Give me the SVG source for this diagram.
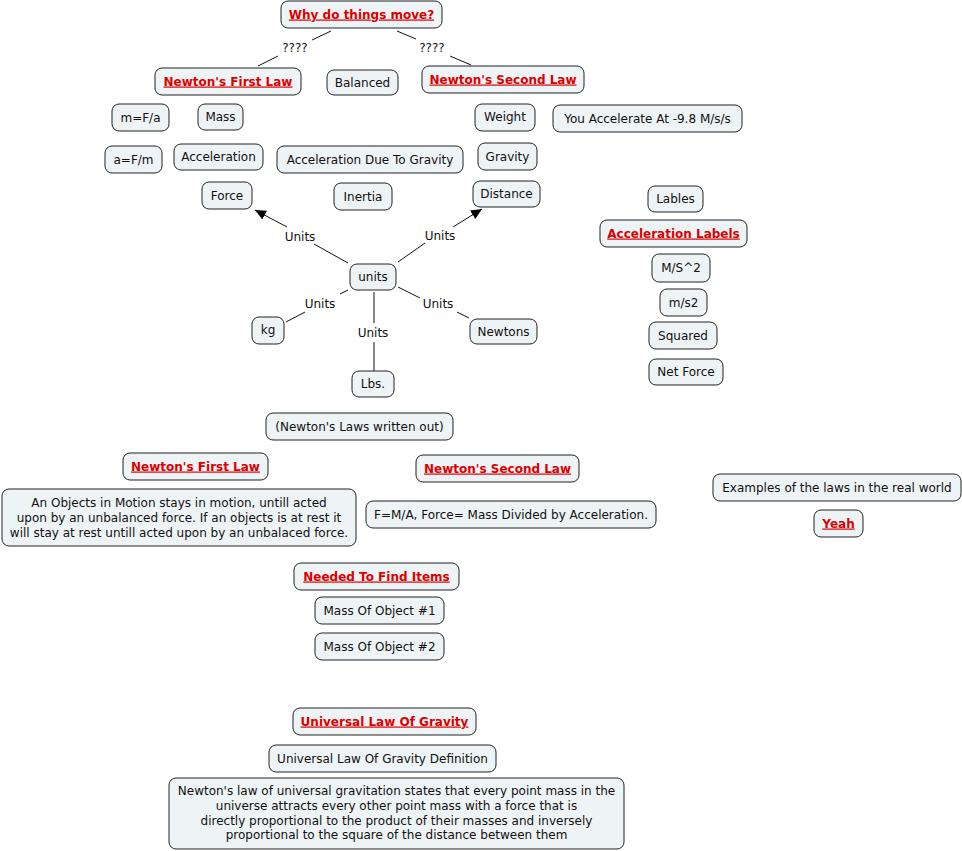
<svg xmlns="http://www.w3.org/2000/svg" width="962" height="851" viewBox="0 0 962 851">
<defs>
<style>
.n rect{fill:#eef3f5;stroke:#222;stroke-width:1;rx:7px;ry:7px}
text{font-family:"DejaVu Sans","Verdana",sans-serif;font-size:12px;fill:#111;text-anchor:middle}
.t text{font-weight:bold;fill:#dd0000;text-decoration:underline}
.c line{stroke:#111;stroke-width:1}
.lb{fill:#111}
</style>
<marker id="ah" markerWidth="12" markerHeight="12" refX="11" refY="5" orient="auto" markerUnits="userSpaceOnUse" viewBox="0 0 12 10">
<path d="M0,0 L11,5 L0,10 z" fill="#000"/>
</marker>
</defs>
<rect width="962" height="851" fill="#fff"/>
<g id="connectors" class="c">
<line x1="331" y1="31" x2="312" y2="40"/>
<line x1="278" y1="56" x2="258" y2="66"/>
<text class="lb" x="295" y="52">????</text>
<line x1="397" y1="31" x2="416" y2="39"/>
<line x1="450" y1="56" x2="471" y2="65"/>
<text class="lb" x="432" y="52">????</text>
<line x1="348" y1="263" x2="314" y2="244"/>
<line x1="287" y1="227" x2="255" y2="210" marker-end="url(#ah)"/>
<text class="lb" x="300" y="241">Units</text>
<line x1="398" y1="262" x2="425" y2="243"/>
<line x1="453" y1="227" x2="482" y2="209" marker-end="url(#ah)"/>
<text class="lb" x="440" y="240">Units</text>
<line x1="348" y1="290" x2="340" y2="294"/>
<line x1="305" y1="312" x2="286" y2="322"/>
<text class="lb" x="320" y="308">Units</text>
<line x1="374" y1="292" x2="374" y2="323"/>
<line x1="374" y1="342" x2="374" y2="371"/>
<text class="lb" x="373" y="337">Units</text>
<line x1="398" y1="287" x2="420" y2="298"/>
<line x1="457" y1="312" x2="469" y2="318"/>
<text class="lb" x="438" y="308">Units</text>
</g>
<g id="why" class="n t"><rect x="281" y="1" width="161" height="27"/><text x="361.5" y="18.5">Why do things move?</text></g>
<g id="nfl1" class="n t"><rect x="155" y="68" width="146" height="27"/><text x="228" y="85.5">Newton's First Law</text></g>
<g id="balanced" class="n"><rect x="327" y="70" width="71" height="25"/><text x="362.5" y="86.5">Balanced</text></g>
<g id="nsl1" class="n t"><rect x="422" y="66" width="162" height="27"/><text x="503" y="83.5">Newton's Second Law</text></g>
<g id="mfa" class="n"><rect x="112" y="104" width="57" height="27"/><text x="140.5" y="121.5">m=F/a</text></g>
<g id="mass" class="n"><rect x="198" y="104" width="45" height="26"/><text x="220.5" y="121">Mass</text></g>
<g id="weight" class="n"><rect x="475" y="104" width="60" height="27"/><text x="505" y="121">Weight</text></g>
<g id="youacc" class="n"><rect x="553" y="105" width="189" height="27"/><text x="647.5" y="122.5">You Accelerate At -9.8 M/s/s</text></g>
<g id="afm" class="n"><rect x="105" y="146" width="57" height="27"/><text x="133.5" y="163.5">a=F/m</text></g>
<g id="accel" class="n"><rect x="174" y="144" width="89" height="26"/><text x="218.5" y="161">Acceleration</text></g>
<g id="adtg" class="n"><rect x="277" y="146" width="186" height="27"/><text x="370" y="163.5">Acceleration Due To Gravity</text></g>
<g id="gravity" class="n"><rect x="478" y="143" width="59" height="27"/><text x="507.5" y="160.5">Gravity</text></g>
<g id="force" class="n"><rect x="202" y="182" width="50" height="27"/><text x="227" y="199.5">Force</text></g>
<g id="inertia" class="n"><rect x="334" y="183" width="58" height="27"/><text x="363" y="200.5">Inertia</text></g>
<g id="distance" class="n"><rect x="473" y="181" width="67" height="26"/><text x="506.5" y="198">Distance</text></g>
<g id="lables" class="n"><rect x="648" y="186" width="55" height="26"/><text x="675.5" y="203">Lables</text></g>
<g id="acclabels" class="n t"><rect x="600" y="220" width="147" height="27"/><text x="673.5" y="237.5">Acceleration Labels</text></g>
<g id="ms2a" class="n"><rect x="652" y="254" width="58" height="28"/><text x="681" y="272">M/S^2</text></g>
<g id="ms2b" class="n"><rect x="660" y="289" width="47" height="27"/><text x="683.5" y="306.5">m/s2</text></g>
<g id="squared" class="n"><rect x="649" y="322" width="68" height="27"/><text x="683" y="339.5">Squared</text></g>
<g id="netforce" class="n"><rect x="649" y="359" width="74" height="26"/><text x="686" y="376">Net Force</text></g>
<g id="units" class="n"><rect x="350" y="264" width="46" height="26"/><text x="373" y="281">units</text></g>
<g id="kg" class="n"><rect x="252" y="317" width="32" height="27"/><text x="268" y="334">kg</text></g>
<g id="newtons" class="n"><rect x="470" y="319" width="67" height="25"/><text x="503.5" y="335.5">Newtons</text></g>
<g id="lbs" class="n"><rect x="352" y="371" width="42" height="26"/><text x="373" y="388">Lbs.</text></g>
<g id="written" class="n"><rect x="266" y="413" width="187" height="27"/><text x="359.5" y="430.5">(Newton's Laws written out)</text></g>
<g id="nfl2" class="n t"><rect x="123" y="453" width="145" height="27"/><text x="195.5" y="470.5">Newton's First Law</text></g>
<g id="nsl2" class="n t"><rect x="416" y="455" width="163" height="27"/><text x="497.5" y="472.5">Newton's Second Law</text></g>
<g id="para1" class="n"><rect x="2" y="489" width="354" height="57"/>
<text x="179" y="507">An Objects in Motion stays in motion, untill acted</text>
<text x="179" y="522">upon by an unbalanced force. If an objects is at rest it</text>
<text x="179" y="537">will stay at rest untill acted upon by an unbalaced force.</text></g>
<g id="fma" class="n"><rect x="366" y="501" width="290" height="27"/><text x="511" y="518.5">F=M/A, Force= Mass Divided by Acceleration.</text></g>
<g id="examples" class="n"><rect x="713" y="474" width="248" height="27"/><text x="837" y="491.5">Examples of the laws in the real world</text></g>
<g id="yeah" class="n t"><rect x="814" y="510" width="49" height="27"/><text x="838.5" y="527.5">Yeah</text></g>
<g id="needed" class="n t"><rect x="294" y="563" width="165" height="27"/><text x="376.5" y="580.5">Needed To Find Items</text></g>
<g id="mo1" class="n"><rect x="315" y="597" width="129" height="27"/><text x="379.5" y="614.5">Mass Of Object #1</text></g>
<g id="mo2" class="n"><rect x="315" y="633" width="129" height="27"/><text x="379.5" y="650.5">Mass Of Object #2</text></g>
<g id="ulog" class="n t"><rect x="293" y="708" width="183" height="27"/><text x="384.5" y="725.5">Universal Law Of Gravity</text></g>
<g id="uldef" class="n"><rect x="269" y="745" width="227" height="27"/><text x="382.5" y="762.5">Universal Law Of Gravity Definition</text></g>
<g id="para2" class="n"><rect x="169" y="778" width="455" height="71"/>
<text x="396.5" y="795">Newton's law of universal gravitation states that every point mass in the</text>
<text x="396.5" y="810">universe attracts every other point mass with a force that is</text>
<text x="396.5" y="824.5">directly proportional to the product of their masses and inversely</text>
<text x="396.5" y="839">proportional to the square of the distance between them</text></g>
</svg>
